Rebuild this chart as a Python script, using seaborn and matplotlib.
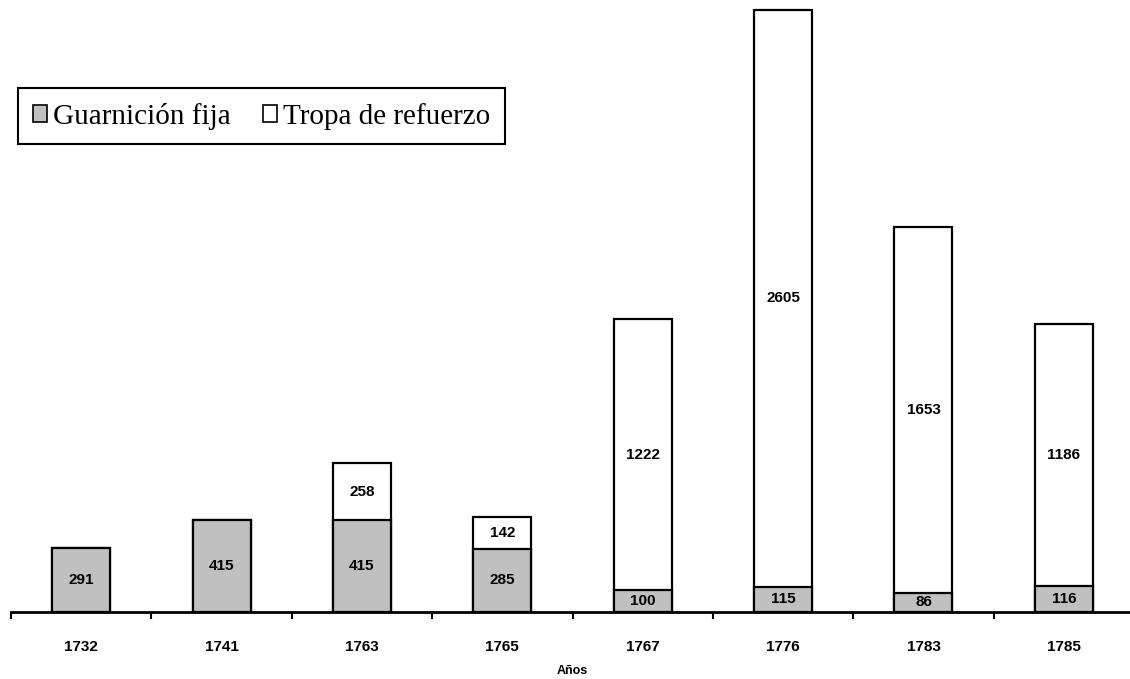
import matplotlib
matplotlib.use("Agg")
import matplotlib.pyplot as plt
import seaborn as sns
import pandas as pd
from matplotlib.patches import Patch
from matplotlib.ticker import FixedLocator

years = ["1732", "1741", "1763", "1765", "1767", "1776", "1783", "1785"]
fija = [291, 415, 415, 285, 100, 115, 86, 116]
refuerzo = [0, 0, 258, 142, 1222, 2605, 1653, 1186]

sns.set_theme(style="white")
plt.rcParams['font.family'] = ['Liberation Sans', 'DejaVu Sans']
plt.rcParams['text.color'] = 'black'
plt.rcParams['axes.labelcolor'] = 'black'
plt.rcParams['xtick.color'] = 'black'

W, H = 1130, 679
fig = plt.figure(figsize=(W / 100, H / 100), dpi=100)
ax = fig.add_axes([11 / W, (H - 612) / H, 1123 / W, 612 / H])

totals = [f + r for f, r in zip(fija, refuerzo)]
df = pd.DataFrame({"year": years, "fija": fija, "total": totals})

sns.barplot(data=df, x="year", y="total", color="white", edgecolor="black",
            linewidth=1.6, width=0.413, ax=ax, saturation=1)
sns.barplot(data=df, x="year", y="fija", color="#c0c0c0", edgecolor="black",
            linewidth=1.6, width=0.413, ax=ax, saturation=1)

for i, (f, r) in enumerate(zip(fija, refuerzo)):
    ax.text(i, f / 2, str(f), ha="center", va="center", fontsize=11,
            fontweight="bold", color="black")
    if r > 0:
        ax.text(i, f + r / 2, str(r), ha="center", va="center", fontsize=11,
                fontweight="bold", color="black")

ax.set_xlim(-0.5, len(years) - 0.5)
ax.set_ylim(0, 2765)
ax.set_yticks([])
ax.set_ylabel("")
for s in ["top", "right", "left"]:
    ax.spines[s].set_visible(False)
ax.spines["bottom"].set_linewidth(2)
ax.spines["bottom"].set_color("black")

ax.xaxis.set_minor_locator(FixedLocator([i - 0.5 for i in range(len(years) + 1)]))
ax.tick_params(axis="x", which="major", length=0, pad=20, labelsize=11,
               labelcolor="black")
ax.tick_params(axis="x", which="minor", length=5, width=1.5, color="black",
               direction="out", bottom=True)
for lbl in ax.get_xticklabels():
    lbl.set_fontweight("bold")
ax.set_xlabel("Años", fontsize=9, fontweight="bold", labelpad=8, color="black")

handles = [Patch(facecolor="#c0c0c0", edgecolor="black", linewidth=1.2, label="Guarnición fija"),
           Patch(facecolor="white", edgecolor="black", linewidth=1.2, label="Tropa de refuerzo")]
leg = fig.legend(handles=handles, loc="upper left",
                 bbox_to_anchor=(18 / W, 1 - 88 / H), ncol=2,
                 prop={"family": "Liberation Serif", "size": 21},
                 frameon=True, fancybox=False, framealpha=1, edgecolor="black",
                 handlelength=0.5, handleheight=0.5, handletextpad=0.2,
                 columnspacing=1.1, borderpad=0.5, borderaxespad=0)
leg.get_frame().set_linewidth(1.5)
for t in leg.get_texts():
    t.set_color("black")

fig.savefig("out.png", dpi=100)
